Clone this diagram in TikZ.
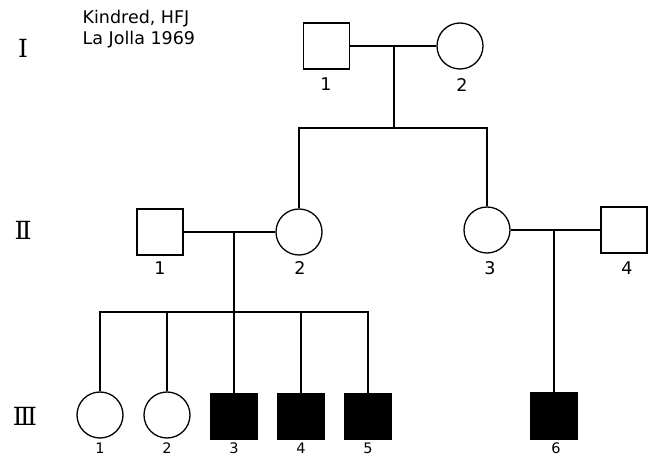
\documentclass[tikz,border=0pt]{standalone}
\usepackage{fontspec}
\setmainfont{DejaVu Sans}
\newfontfamily\numeralfont{DejaVu Serif}
\begin{document}
\begin{tikzpicture}[x=1pt,y=-1pt,line width=1.3pt,
  male/.style={draw,rectangle,minimum size=46pt,inner sep=0pt},
  female/.style={draw,circle,minimum size=46pt,inner sep=0pt},
  affected/.style={fill=black},
  lbl/.style={font={\fontsize{17.5}{21}\selectfont},inner sep=0pt},
  lowlbl/.style={font={\fontsize{14.5}{17}\selectfont},inner sep=0pt},
  gen/.style={font={\numeralfont\fontsize{25}{28}\selectfont},inner sep=0pt}]
\useasboundingbox (0,0) rectangle (656,457);

% heading
\node[lbl,anchor=base west] (t1) at (82,24) {Kindred, HFJ};
\node[lbl,anchor=base west] (t2) at (82,45) {La Jolla 1969};

% generation numerals
\node[gen] (gI)   at (23,48)  {Ⅰ};
\node[gen] (gII)  at (23,230.5) {Ⅱ};
\node[gen] (gIII) at (25,416.5) {Ⅲ};

% generation I
\node[male]   (I1) at (326.5,46) {};
\node[female] (I2) at (460,46) {};
\node[lbl] (lI1) at (326,84) {1};
\node[lbl] (lI2) at (462,85) {2};

% generation II
\node[male]   (II1) at (160,232) {};
\node[female] (II2) at (299,232) {};
\node[female] (II3) at (487,230) {};
\node[male]   (II4) at (624,230) {};
\node[lbl] (lII1) at (160,268) {1};
\node[lbl] (lII2) at (300,268) {2};
\node[lbl] (lII3) at (490,268) {3};
\node[lbl] (lII4) at (627,268) {4};

% generation III
\node[female] (III1) at (100,415) {};
\node[female] (III2) at (167,415) {};
\node[male,affected] (III3) at (234,416.5) {};
\node[male,affected] (III4) at (301,416.5) {};
\node[male,affected] (III5) at (368,416.5) {};
\node[male,affected] (III6) at (554,416) {};
\node[lowlbl] (lIII1) at (100,448.5) {1};
\node[lowlbl] (lIII2) at (167,448.5) {2};
\node[lowlbl] (lIII3) at (234,448.5) {3};
\node[lowlbl] (lIII4) at (301,448.5) {4};
\node[lowlbl] (lIII5) at (368,448.5) {5};
\node[lowlbl] (lIII6) at (556,448.5) {6};

% mating and descent points
\coordinate (m1) at (394,46);
\coordinate (s1) at (394,128);
\coordinate (m2) at (234,232);
\coordinate (s2) at (234,312);
\coordinate (m3) at (554,230);

% connectors
\draw (I1.east) -- (I2.west);
\draw (m1) -- (s1);
\draw (II2.north) |- (s1) -| (II3.north);

\draw (II1.east) -- (II2.west);
\draw (m2) -- (III3.north);
\draw (III1.north) |- (s2) -| (III5.north);
\draw (III2.north) -- (III2.north |- s2);
\draw (III4.north) -- (III4.north |- s2);

\draw (II3.east) -- (II4.west);
\draw (m3) -- (III6.north);
\end{tikzpicture}
\end{document}
